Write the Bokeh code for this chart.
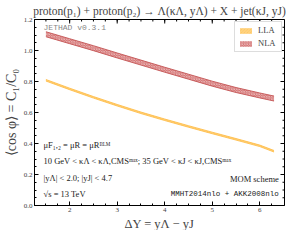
from bokeh.plotting import figure
from bokeh.models import Label, Legend, LegendItem, Range1d, FixedTicker, Title
from bokeh.embed import file_html
from bokeh.resources import INLINE
import numpy as np

dY = [1.5, 2.0, 2.5, 3.0, 3.5, 4.0, 4.5, 5.0, 5.5, 6.0, 6.3]
lla = [0.808, 0.752, 0.698, 0.647, 0.598, 0.553, 0.510, 0.468, 0.427, 0.385, 0.350]
nla = [1.105, 1.060, 1.015, 0.968, 0.922, 0.876, 0.831, 0.786, 0.745, 0.710, 0.690]
lla_err = 0.005
nla_err = 0.016
x_ticks = [2, 3, 4, 5, 6]
y_ticks = [0.0, 0.2, 0.4, 0.6, 0.8, 1.0, 1.2]
x_minor = list(np.arange(1.5, 6.5, 0.25))
y_minor = list(np.arange(0.05, 1.2, 0.05))

SERIF = "Liberation Serif"
MONO = "Liberation Mono"

X0, X1, Y0, Y1 = 1.26, 6.52, 0.0, 1.2
p = figure(width=287, height=230, output_backend="svg", toolbar_location=None,
           x_range=Range1d(X0, X1), y_range=Range1d(Y0, Y1),
           min_border_left=24, min_border_right=3, min_border_top=0, min_border_bottom=0)
p.title.text = "proton(p\u2081) + proton(p\u2082) \u2192 \u039b(\u03ba\u039b, y\u039b) + X + jet(\u03baJ, yJ)"
p.title.text_font = SERIF
p.title.text_font_size = "11.5px"
p.title.text_font_style = "normal"
p.title.align = "center"
p.title.standoff = 5
p.title.offset = 0
p.grid.visible = False
p.outline_line_color = "black"
p.outline_line_width = 1

ylo_l = [v - lla_err for v in lla]
yhi_l = [v + lla_err for v in lla]
ylo_n = [v - nla_err for v in nla]
yhi_n = [v + nla_err for v in nla]

r_l = p.varea(x=dY, y1=ylo_l, y2=yhi_l, fill_color="#FFC55A", fill_alpha=1.0,
              hatch_pattern="\\", hatch_color="white", hatch_alpha=0.5, hatch_scale=3, hatch_weight=0.6)
p.line(dY, yhi_l, line_color="#FFBA40", line_width=0.8)
p.line(dY, ylo_l, line_color="#FFBA40", line_width=0.8)
r_n = p.varea(x=dY, y1=ylo_n, y2=yhi_n, fill_color="#D57575", fill_alpha=1.0,
              hatch_pattern="x", hatch_color="white", hatch_alpha=0.6, hatch_scale=2.5, hatch_weight=0.6)
p.line(dY, yhi_n, line_color="#C45555", line_width=0.9)
p.line(dY, ylo_n, line_color="#C45555", line_width=0.9)

legend = Legend(items=[LegendItem(label="LLA", renderers=[r_l]), LegendItem(label="NLA", renderers=[r_n])],
                location="top_right", label_text_font=SERIF, label_text_font_size="8.5px",
                glyph_width=15, glyph_height=7, label_height=8, spacing=3, padding=3, margin=2,
                label_standoff=5, border_line_color="#BBBBBB", border_line_width=1, background_fill_alpha=1)
p.add_layout(legend)

xt = FixedTicker(ticks=x_ticks, minor_ticks=x_minor)
yt = FixedTicker(ticks=y_ticks, minor_ticks=y_minor)
p.xaxis.ticker = xt
p.yaxis.ticker = yt
for ax in p.xaxis + p.yaxis:
    ax.major_tick_in = 4
    ax.major_tick_out = 0
    ax.minor_tick_in = 2
    ax.minor_tick_out = 0
    ax.axis_line_color = "black"
    ax.major_label_text_font = SERIF
    ax.major_label_text_font_size = "7px"
    ax.major_label_standoff = 2
    ax.axis_label_text_font = SERIF
    ax.axis_label_text_font_style = "normal"
p.yaxis.major_label_overrides = {v: f"{v:.1f}" for v in y_ticks}
p.yaxis.axis_label = "\u27e8cos \u03c6\u27e9 = C\u2081/C\u2080"
p.yaxis.axis_label_text_font_size = "14px"
p.yaxis.axis_label_standoff = 2

xlabel = Title(text="\u0394Y = y\u039b \u2212 yJ", text_font=SERIF, text_font_size="12.5px",
               text_font_style="normal", align="center", standoff=0, offset=0)
p.add_layout(xlabel, "below")

# mirrored inward ticks on top and right edges (clipped to the frame)
p.scatter(x=x_ticks, y=[Y1] * len(x_ticks), marker="dash", angle=np.pi / 2, size=8, line_color="black", line_width=1)
p.scatter(x=x_minor, y=[Y1] * len(x_minor), marker="dash", angle=np.pi / 2, size=4, line_color="black", line_width=1)
p.scatter(x=[X1] * len(y_ticks), y=y_ticks, marker="dash", size=8, line_color="black", line_width=1)
p.scatter(x=[X1] * len(y_minor), y=y_minor, marker="dash", size=4, line_color="black", line_width=1)

def lab(x, y, t, font=SERIF, size="8.5px", align="left", color="#222222"):
    p.add_layout(Label(x=x, y=y, text=t, text_font=font, text_font_size=size, text_align=align,
                       text_baseline="middle", text_color=color))

lab(1.45, 1.15, "JETHAD v0.3.1", font=MONO, size="8px", color="#888888")
lab(1.45, 0.39, "\u03bcF\u2081,\u2082 = \u03bcR = \u03bcR\u1d2e\u1d38\u1d39")
lab(1.45, 0.285, "10 GeV < \u03ba\u039b < \u03ba\u039b,CMS\u1d50\u1d43\u02e3; 35 GeV < \u03baJ < \u03baJ,CMS\u1d50\u1d43\u02e3")
lab(1.45, 0.176, "|y\u039b| < 2.0;  |yJ| < 4.7")
lab(1.45, 0.073, "\u221as = 13 TeV")
lab(6.4, 0.17, "MOM scheme", align="right")
lab(6.4, 0.073, "MMHT2014nlo + AKK2008nlo", font=MONO, size="7.5px", align="right")

open("out.html", "w").write(file_html(p, INLINE))
